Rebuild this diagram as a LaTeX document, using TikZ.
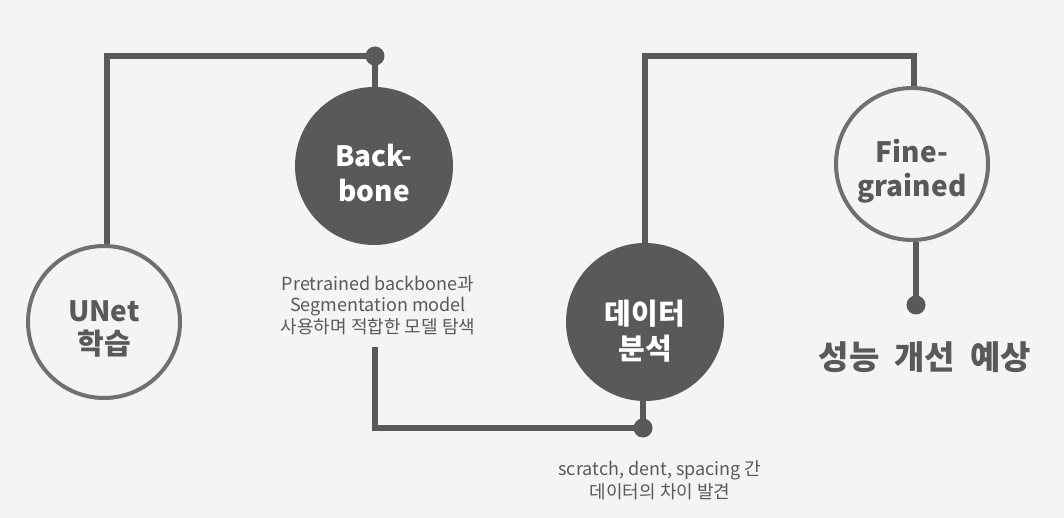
\documentclass[tikz,border=0pt]{standalone}
\usepackage{fontspec}
\setmainfont{Noto Sans CJK KR}
\usetikzlibrary{positioning}
\definecolor{bgcol}{HTML}{F4F4F4}
\definecolor{darkcol}{HTML}{595959}
\definecolor{ringcol}{HTML}{707070}
\begin{document}
\begin{tikzpicture}[x=1pt,y=-1pt,
	ring/.style={circle, draw=ringcol, line width=4pt, fill=bgcol, minimum size=152pt, inner sep=0pt,
		text=darkcol, align=center, font=\bfseries\fontsize{28}{34}\selectfont},
	disc/.style={circle, fill=darkcol, minimum size=158pt, inner sep=0pt,
		text=white, align=center, font=\bfseries\fontsize{28}{35}\selectfont},
	link/.style={draw=darkcol, line width=6pt},
	dot/.style={circle, fill=darkcol, minimum size=19pt, inner sep=0pt},
	note/.style={text=darkcol, align=center, font=\fontsize{18}{21.5}\selectfont}]
				\fill [bgcol] (0,0) rectangle (1064,518);
				\useasboundingbox (0,0) rectangle (1064,518);
				%
				\node [ring] (unet) at (104,322) {};
				\node [disc] (backbone) at (374,166) {};
				\node [disc] (data) at (645,322) {};
				\node [ring] (fine) at (912,164) {};
				\node [text=darkcol, align=center, font=\bfseries\fontsize{28}{33}\selectfont] (unettext) at (104,329) {UNet\\{\fontsize{29}{33}\selectfont 학습}};
				\node [text=white, align=center, font=\bfseries\fontsize{28}{35}\selectfont] (bbtext) at (374,173) {Back-\\bone};
				\node [text=white, align=center, font=\bfseries\fontsize{29}{35}\selectfont] (datatext) at (645,331) {데이터\\분석};
				\node [text=darkcol, align=center, font=\bfseries\fontsize{28}{34}\selectfont] (finetext) at (912,171) {Fine-\\grained};
				%
				\node [note] (bblabel) at (378,305) {Pretrained backbone과\\Segmentation model\\사용하며 적합한 모델 탐색};
				\node [note, font=\fontsize{18}{23}\selectfont] (datalabel) at (660,480) {scratch, dent, spacing 간\\데이터의 차이 발견};
				%
				\node [dot] (bbdot) at (375,56) {};
				\node [dot] (datadot) at (643,428) {};
				\node [dot] (finedot) at (916,305) {};
				\coordinate (topleft) at (107,56);
				\coordinate (topright) at (914,56);
				\coordinate (bbbottom) at (375,347);
				%
				\draw [link] (unet.north -| topleft) |- (bbdot.center) -- (backbone.north -| bbdot);
				\draw [link] (bbbottom) |- (datadot.center) -- (data.south -| datadot);
				\draw [link] (data.north) |- (topright) -- (fine.north -| topright);
				\draw [link] (fine.south -| finedot) -- (finedot.center);
				%
				\node [text=darkcol, font=\bfseries\fontsize{33}{36}\selectfont] (gain) at (925,357) {성능\hspace{15pt}개선\hspace{15pt}예상};
			\end{tikzpicture}
\end{document}
